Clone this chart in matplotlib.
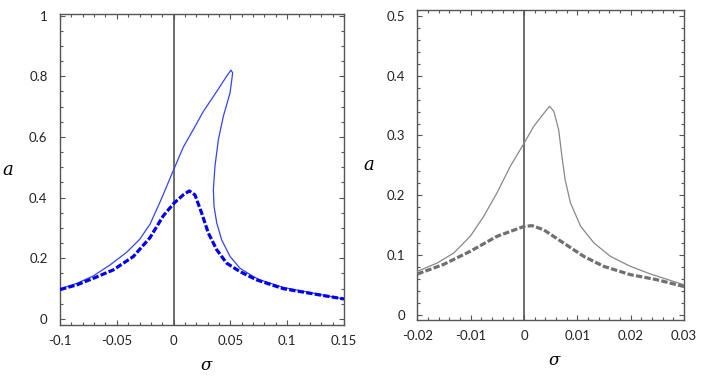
import matplotlib.pyplot as plt
from matplotlib.ticker import MultipleLocator

# left panel: full response (thin, with loop) and approximate solution (dashed)
sig_full_l = [-0.1, -0.0848, -0.0707, -0.056, -0.0413, -0.0300, -0.0208, -0.012, 0.0004,
              0.0085, 0.0173, 0.0262, 0.038, 0.0467, 0.0505, 0.052, 0.0497, 0.0438,
              0.0394, 0.0364, 0.035, 0.0356, 0.038, 0.0423, 0.0497, 0.0585, 0.0702,
              0.076, 0.0966, 0.126, 0.15]
a_full_l = [0.099, 0.118, 0.142, 0.178, 0.220, 0.262, 0.312, 0.385, 0.495,
            0.566, 0.624, 0.684, 0.750, 0.800, 0.820, 0.811, 0.745, 0.668,
            0.591, 0.503, 0.426, 0.371, 0.316, 0.261, 0.206, 0.167, 0.140,
            0.129, 0.104, 0.083, 0.066]
sig_appr_l = [-0.1, -0.0848, -0.0707, -0.053, -0.0354, -0.0208, -0.0091, 0.0004, 0.0085,
              0.0138, 0.0188, 0.0247, 0.0306, 0.038, 0.0467, 0.0585, 0.0731, 0.0966,
              0.126, 0.15]
a_appr_l = [0.097, 0.113, 0.134, 0.162, 0.206, 0.268, 0.340, 0.382, 0.409,
            0.422, 0.409, 0.349, 0.283, 0.228, 0.184, 0.156, 0.129, 0.100,
            0.081, 0.066]

# right panel
sig_full_r = [-0.02, -0.0163, -0.0132, -0.0101, -0.0076, -0.0051, -0.0026, 0.0,
              0.0018, 0.0037, 0.0048, 0.0056, 0.0065, 0.0071, 0.0077, 0.0087, 0.0106,
              0.0131, 0.0162, 0.0199, 0.0237, 0.03]
a_full_r = [0.0725, 0.0864, 0.103, 0.131, 0.164, 0.2035, 0.248, 0.287,
            0.315, 0.337, 0.349, 0.340, 0.309, 0.265, 0.226, 0.187, 0.148,
            0.120, 0.0975, 0.081, 0.068, 0.050]
sig_appr_r = [-0.02, -0.0151, -0.0101, -0.0051, 0.0, 0.0015, 0.0037, 0.0074,
              0.0112, 0.0149, 0.0199, 0.0249, 0.03]
a_appr_r = [0.0680, 0.0840, 0.106, 0.131, 0.1477, 0.149, 0.142, 0.120,
            0.0975, 0.081, 0.067, 0.0585, 0.047]

plt.rcParams['font.family'] = ['Lato', 'DejaVu Sans']

fig = plt.figure(figsize=(7.02, 3.78), dpi=100)
ax1 = fig.add_axes([0.0855, 0.140, 0.4045, 0.823])
ax2 = fig.add_axes([0.5945, 0.1534, 0.380, 0.820])


def fmt(v, pos):
    s = f'{v:.3f}'.rstrip('0').rstrip('.')
    return '0' if s in ('-0', '0') else s


def style_axes(ax, xlim, ylim, xmaj, xmin, ymaj, ymin):
    ax.set_xlim(*xlim)
    ax.set_ylim(*ylim)
    ax.xaxis.set_major_locator(MultipleLocator(xmaj))
    ax.xaxis.set_minor_locator(MultipleLocator(xmin))
    ax.yaxis.set_major_locator(MultipleLocator(ymaj))
    ax.yaxis.set_minor_locator(MultipleLocator(ymin))
    ax.xaxis.set_major_formatter(fmt)
    ax.yaxis.set_major_formatter(fmt)
    ax.tick_params(which='both', direction='in', top=True, right=True,
                   color='#555555', width=0.8, labelsize=9.5, labelcolor='#222222')
    ax.tick_params(which='major', length=3.5)
    ax.tick_params(which='minor', length=2)
    ax.tick_params(axis='x', which='major', pad=7)
    ax.tick_params(axis='y', which='major', pad=9)
    for sp in ax.spines.values():
        sp.set_color('#555555')
        sp.set_linewidth(1.0)
    ax.axvline(0, color='#555555', linewidth=1.2, zorder=1)
    ax.set_xlabel('σ', fontsize=12, fontstyle='italic', family='DejaVu Serif',
                  va='center', ha='center')
    ax.set_ylabel('a', fontsize=13, fontstyle='italic', family='DejaVu Serif',
                  rotation=0, va='center', ha='center')
    ax.yaxis.set_label_coords(-0.183, 0.5)
    ax.xaxis.set_label_coords(0.515, -0.13)


style_axes(ax1, (-0.1, 0.15), (-0.02, 1.005), 0.05, 0.01, 0.2, 0.05)
ax1.plot(sig_full_l, a_full_l, color='#3344ee', linewidth=0.9, zorder=3)
ax1.plot(sig_appr_l, a_appr_l, color='#0000ee', linewidth=2.3,
         dashes=(2.0, 0.7), zorder=4)

style_axes(ax2, (-0.02, 0.03), (-0.009, 0.51), 0.01, 0.002, 0.1, 0.02)
ax2.plot(sig_full_r, a_full_r, color='#888888', linewidth=0.9, zorder=3)
ax2.plot(sig_appr_r, a_appr_r, color='#707070', linewidth=2.3,
         dashes=(2.0, 0.7), zorder=4)

fig.savefig('out.png', dpi=100)
